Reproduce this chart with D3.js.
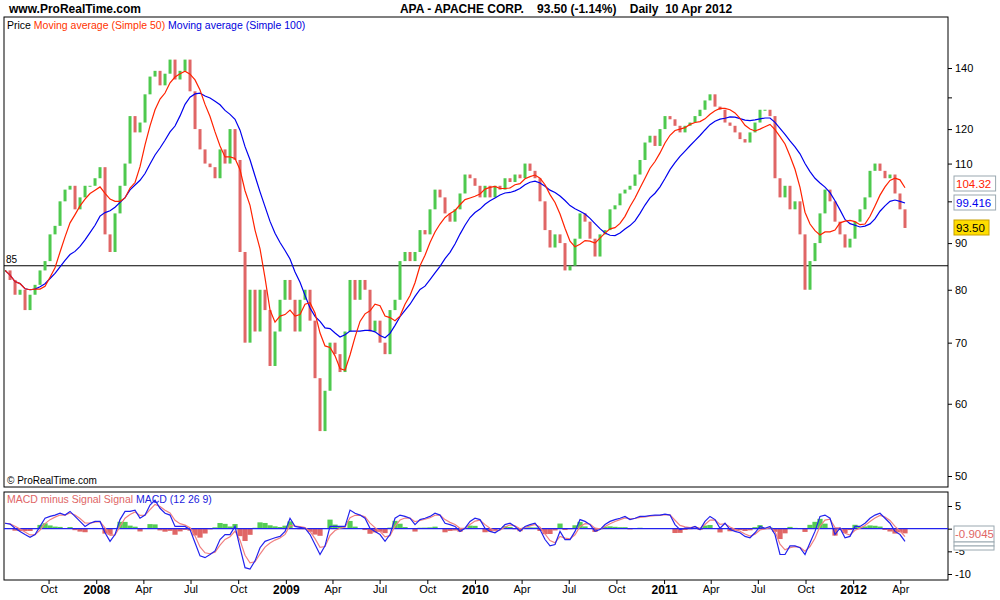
<!DOCTYPE html>
<html>
<head>
<meta charset="utf-8">
<script src="https://cdn.jsdelivr.net/npm/d3@7"></script>
<style>
  body { margin: 0; background: #fff; font-family: "Liberation Sans", Arial, sans-serif; }
</style>
</head>
<body>
<svg id="chart" width="1000" height="600"></svg>
<script>
// closes sampled roughly every 9.65 days, from 9 Jul 2007 to 10 Apr 2012
const startDate = new Date(2007, 6, 9);
const stepDays = 9.65;
const closes = [84,82,79,80,76,79,81,84,86,92,94,100,103,104,98,101,104,104,106,109,
  92,88,97,104,110,124,119,122,131,137,139,134,138,143,136,139,143,132,120,114,
  110,109,106,114,110,120,111,88,70,80,72,80,76,66,72,78,82,78,72,78,
  80,74,64,56,62,70,68,65,72,82,78,82,80,72,74,70,68,76,78,86,
  88,86,88,93,92,98,103,101,97,95,98,102,107,106,104,101,104,101,104,103,
  106,105,107,106,110,108,106,100,93,89,92,90,84,85,91,97,95,91,87,92,
  93,98,99,102,103,104,107,111,116,118,115,120,124,123,121,119,121,122,124,126,
  129,131,127,126,122,121,119,117,116,119,122,126,126,124,106,101,104,98,100,92,
  80,86,90,97,103,100,95,92,89,91,95,98,101,108,110,108,106,107,102,98,93.5];
const macdVals = [1.2,1.0,0.1,-0.6,-1.3,-1.9,-1.3,0.5,2.3,2.7,3,3.4,3,3.8,2.7,1.6,0.5,1.2,1.6,1.6,
  -0.9,-2.8,-1.3,2,3.8,3.8,4.1,2.3,3,5.2,6.3,4.5,3.4,3,0.5,0.5,0.5,-0.2,-3.1,-6,
  -6.4,-5.7,-4.9,-2.4,-1.3,-1.3,0.5,-4.2,-8.6,-8.9,-7.1,-4.2,-2.8,-2.4,-2,-1.7,-0.6,2.3,0.5,0.3,
  0.1,-1.3,-3.5,-5.7,-3.8,0.5,0.5,0.5,0.5,4.1,3.4,3,2.3,0.1,-0.6,-1.3,-2.8,-1.3,2.3,3,
  2.7,2.3,0.9,2,2.3,2.7,3.4,3,1.2,0.9,0.5,-0.6,0.1,1.6,2.3,2,0.1,-0.6,-0.9,-0.2,
  0.9,1.2,0.5,-0.6,0.5,0.9,1.2,-0.2,-2.4,-3.8,-3.5,-0.6,-2.4,-2.4,-0.6,2,1.6,0.9,-0.6,-0.2,
  0.9,1.6,2,2.3,2.7,2,2.3,2.7,2.7,2.9,3,3,3.2,3,0.9,-0.2,0.1,0.1,0.5,-0.2,
  1.6,2.7,2,0.1,1.2,-0.2,-0.6,-0.9,-1.7,-2,-0.9,0.5,0.1,0.5,-1.3,-5.7,-5.7,-3.8,-3.8,-4.2,
  -5.7,-3.1,-0.6,2.7,3,2.3,-1.3,0.1,-2,-1.7,0.5,0.5,1.2,2.3,3,3.4,2.3,1.2,-0.6,-1.3,-2.8];
const priceTicks = [50, 60, 70, 80, 90, 100, 110, 120, 130, 140];
const priceLabels = [50, 60, 70, 80, 90, 110, 120, 140];
const macdTicks = [5, 0, -5, -10];

const dates = closes.map((c, i) => d3.timeHour.offset(startDate, Math.round(i * stepDays * 24)));
const data = closes.map((c, i) => ({date: dates[i], close: c, open: i ? closes[i - 1] : c, macd: macdVals[i]}));

// moving averages, window in samples (50 and 100 trading days)
function sma(n) {
  return data.map((d, i) => {
    const s = data.slice(Math.max(0, i - n + 1), i + 1);
    return {date: d.date, v: d3.mean(s, e => e.close)};
  });
}
const ma50 = sma(7), ma100 = sma(15);
let sig = data[0].macd;
data.forEach(d => { sig = sig + 0.55 * (d.macd - sig); d.signal = sig; d.hist = d.macd - sig; });

const L = 4, R = 948, T = 17, B = 487, MT = 492, MB = 580;
const svg = d3.select("#chart");

const x = d3.scaleTime()
  .domain([new Date(2007, 6, 7), new Date(2012, 6, 2)])
  .range([L, R]);
const y = d3.scaleLog().domain([50, 140]).range([476, 68]);
const ym = d3.scaleLinear().domain([-10, 5]).range([574, 506]);

// header
svg.append("text").attr("x", 9).attr("y", 13).attr("font-size", 12).attr("font-weight", "bold")
  .text("www.ProRealTime.com");
svg.append("text").attr("x", 566).attr("y", 13).attr("font-size", 12).attr("font-weight", "bold")
  .attr("text-anchor", "middle").attr("xml:space", "preserve")
  .text("APA - APACHE CORP.    93.50 (-1.14%)    Daily  10 Apr 2012");

// panels
svg.append("rect").attr("x", L).attr("y", T).attr("width", R - L).attr("height", B - T)
  .attr("fill", "none").attr("stroke", "#000");
svg.append("rect").attr("x", L).attr("y", MT).attr("width", R - L).attr("height", MB - MT)
  .attr("fill", "none").attr("stroke", "#000");

svg.append("clipPath").attr("id", "cp").append("rect")
  .attr("x", L).attr("y", T).attr("width", R - L).attr("height", B - T);
const main = svg.append("g").attr("clip-path", "url(#cp)");

// 85 line
main.append("line").attr("x1", L).attr("x2", R).attr("y1", y(85)).attr("y2", y(85))
  .attr("stroke", "#000").attr("stroke-width", 1.2);
svg.append("text").attr("x", 6).attr("y", y(85) - 3).attr("font-size", 10).text("85");

// candles
main.selectAll("rect.c").data(data).enter().append("rect")
  .attr("x", d => x(d.date) - 1.5)
  .attr("width", 3)
  .attr("y", d => y(Math.max(d.open, d.close)))
  .attr("height", d => Math.max(1, Math.abs(y(d.open) - y(d.close))))
  .attr("fill", d => d.close >= d.open ? "#4ec94e" : "#e06666");

const ln = d3.line().x(d => x(d.date)).y(d => y(d.v));
main.append("path").datum(ma100).attr("d", ln).attr("fill", "none").attr("stroke", "#0000ee").attr("stroke-width", 1.2);
main.append("path").datum(ma50).attr("d", ln).attr("fill", "none").attr("stroke", "#ff2200").attr("stroke-width", 1.2);

// legend
const lg = svg.append("text").attr("x", 7).attr("y", 29).attr("font-size", 10.5);
lg.append("tspan").text("Price ");
lg.append("tspan").attr("fill", "#ff3300").text("Moving average (Simple 50) ");
lg.append("tspan").attr("fill", "#0000dd").text("Moving average (Simple 100)");
svg.append("text").attr("x", 7).attr("y", 484).attr("font-size", 10).text("© ProRealTime.com");

// price axis
const ya = svg.append("g").attr("transform", `translate(${R},0)`)
  .call(d3.axisRight(y).tickValues(priceTicks).tickSize(4)
    .tickFormat(d => priceLabels.includes(d) ? d : ""));
ya.select(".domain").remove();
ya.selectAll("text").attr("font-size", 11).attr("font-family", "Liberation Sans, Arial").attr("x", 7);

// value boxes
const boxes = [
  {label: "104.32", col: "#ff2200", bg: "#fff", yy: 184},
  {label: "99.416", col: "#0000ee", bg: "#fff", yy: 203},
  {label: "93.50", col: "#000", bg: "#ffdd00", yy: 228}
];
boxes.forEach(b => {
  svg.append("rect").attr("x", 954).attr("y", b.yy - 8).attr("width", b.label.length * 6.6 + 2).attr("height", 15)
    .attr("fill", b.bg).attr("stroke", b.bg === "#fff" ? "#9aa8b0" : "#c8a000");
  svg.append("text").attr("x", 956).attr("y", b.yy + 4).attr("font-size", 11.5).attr("fill", b.col).text(b.label);
});

// MACD panel
svg.append("clipPath").attr("id", "cm").append("rect")
  .attr("x", L).attr("y", MT).attr("width", R - L).attr("height", MB - MT);
const mg = svg.append("g").attr("clip-path", "url(#cm)");
mg.selectAll("rect.h").data(data).enter().append("rect")
  .attr("x", d => x(d.date) - 2.6).attr("width", 5.2)
  .attr("y", d => ym(Math.max(0, d.hist)))
  .attr("height", d => Math.abs(ym(d.hist) - ym(0)))
  .attr("fill", d => d.hist >= 0 ? "#55cc55" : "#e06666");
mg.append("line").attr("x1", L).attr("x2", R).attr("y1", ym(0)).attr("y2", ym(0)).attr("stroke", "#2222ee").attr("stroke-width", 1.3);
mg.append("path").datum(data).attr("d", d3.line().x(d => x(d.date)).y(d => ym(d.signal))).attr("fill", "none").attr("stroke", "#f08080").attr("stroke-width", 1.2);
mg.append("path").datum(data).attr("d", d3.line().x(d => x(d.date)).y(d => ym(d.macd))).attr("fill", "none").attr("stroke", "#2222ee").attr("stroke-width", 1.2);

const ml = svg.append("text").attr("x", 7).attr("y", 503).attr("font-size", 10.5);
ml.append("tspan").attr("fill", "#e06666").text("MACD minus Signal Signal ");
ml.append("tspan").attr("fill", "#2222dd").text("MACD (12 26 9)");

const ma = svg.append("g").attr("transform", `translate(${R},0)`)
  .call(d3.axisRight(ym).tickValues(macdTicks).tickSize(4).tickFormat(d => d === 0 ? "" : d));
ma.select(".domain").remove();
ma.selectAll("text").attr("font-size", 11).attr("font-family", "Liberation Sans, Arial").attr("x", 7);

svg.append("rect").attr("x", 954).attr("y", 526).attr("width", 40).attr("height", 16).attr("fill", "#fff").attr("stroke", "#9aa8b0");
svg.append("text").attr("x", 955).attr("y", 538).attr("font-size", 11.5).attr("fill", "#e06666").text("-0.9045");
svg.append("rect").attr("x", 954).attr("y", 542).attr("width", 40).attr("height", 4).attr("fill", "#fff").attr("stroke", "#9aa8b0");
svg.append("rect").attr("x", 954).attr("y", 546).attr("width", 40).attr("height", 4).attr("fill", "#fff").attr("stroke", "#9aa8b0");

// time axis
const months = d3.timeMonth.every(3).range(new Date(2007, 9, 1), new Date(2012, 5, 1));
const xa = svg.append("g").attr("transform", `translate(0,${MB})`)
  .call(d3.axisBottom(x).tickValues(months).tickSize(4)
    .tickFormat(d => d.getMonth() === 0 ? d3.timeFormat("%Y")(d) : d3.timeFormat("%b")(d)));
xa.select(".domain").remove();
xa.selectAll("text").attr("font-family", "Liberation Sans, Arial").attr("y", 5).attr("dy", "0.72em")
  .attr("font-weight", d => d.getMonth() === 0 ? "bold" : "normal")
  .attr("font-size", d => d.getMonth() === 0 ? 12 : 11);
</script>
</body>
</html>
